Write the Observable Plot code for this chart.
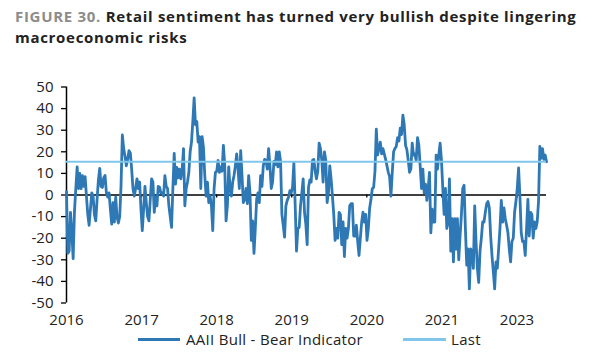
<!DOCTYPE html>
<html><head><meta charset="utf-8">
<script src="https://cdn.jsdelivr.net/npm/d3@7"></script>
<script src="https://cdn.jsdelivr.net/npm/@observablehq/plot@0.6"></script>
<style>
body{margin:0;background:#fff;}
#wrap{position:relative;width:600px;height:360px;overflow:hidden;font-family:"Open Sans",sans-serif;}
#chart{position:absolute;left:0;top:0}
#title{position:absolute;left:15px;top:6px;font-weight:700;font-size:15px;letter-spacing:0.7px;line-height:20.5px;color:#222;white-space:nowrap}
#title .fig{color:#8c8c8c}
#legend{position:absolute;top:331px;left:0;width:600px;height:16px;font-size:15px;letter-spacing:0.3px;color:#222}
.sw{position:absolute;top:7px;height:3px}
.lt{position:absolute;top:0;line-height:16px;white-space:nowrap}
</style></head><body>
<div id="wrap">
<div id="chart"></div>
<div id="title"></div>
<div id="legend"></div>
</div>
<script>
// ---- data ----
const figureLabel = "FIGURE 30.";
const titleLine1 = "Retail sentiment has turned very bullish despite lingering";
const titleLine2 = "macroeconomic risks";
const seriesNames = ["AAII Bull - Bear Indicator", "Last"];
const seriesColors = ["#2e78b5", "#80c6ea"];
const xTickLabels = ["2016", "2017", "2018", "2019", "2020", "2021", "2023"];
const yTicks = [-50, -40, -30, -20, -10, 0, 10, 20, 30, 40, 50];
const startDate = "2016-01-07";
const weeksSpan = 390;
const labelEveryWeeks = 61;

// AAII Bull - Bear spread (roughly weekly)
const spread2016_17 = [1.5, -27, -26, -8, -17, -29.5, -7.5, 3, 13, 3, 10, 3, 9, 4, 8.5, -0.5, -9, -14, -6.5, 1, -0.5, -9, -12, -2, 7, 12.3, 4, 3.5, 8, 9, 1, -1, 1, -6.5, -13.5, -3.5, -12.5, -1, -10, -13, -10, 4, 27.8, 21.5, 18, 13.5, 16.5, 20.5, 19.5, 12, 3, -0.5, 3, 7.5, 3, 6, -6.5, -16.5, -6.5, 4, -3.5, -10, -12, -2, 7.5, 6, -8, -1, -5, 4, 3.5, 1];
const spread2017_19 = [1, -0.5, 9, 4, 3, -5, -10, -15, 3, 19.3, 5, 12.8, 8, 12, 7.5, 12, 21.5, -5, 3, 6, 10.5, 20, 24.5, 34, 45, 32.5, 34, 24.5, 27, 3, 27, 22, 9, -0.5, 6, -3.5, -0.5, -5, -16.5, 3, 10.5, 11, 16, 10.5, 13, 11, 23, 13.5, -12, -5, 13, 3, -0.5, 6, 9, 13.5, 19, 12, 3, 20.5, 9, -3.5, -2, 3, -4, 9, 1, -21, -12, -27, -15.5, -2, 1];
const spread2019_20 = [-3.5, 9, 4, 13.5, 16.5, 16, 12, 21.5, 13.5, 3, 6, 15.5, 14, 20, 13, 20, 15.5, -9, -14, -19.5, -5, -2.5, -1, 2, 1, 3.5, 15, -5, -26, -15.5, -15, -5, 1, 7.5, -8, -13.5, -23, 3.5, 7, 6, 16, 16.5, 11, 7.5, 11, 24, 21.5, 16, 6, 20, 16, -3.5, 1, 13.5, 7.5, -0.5, -9, -21, -15.5, -20, -8, -9, -23, -12.5, -28.5, -15.5, -20, -15.5, -5, -4, -4, -19];
const spread2020_21 = [-19, -14, -21.5, -28, -20, -12.5, -8, -12.5, -9, -21, -15.5, -6, -2, 3, 3.5, 11, 30.5, 18.5, 21.5, 24.5, 19, 21.5, 19, 16.5, 13.5, 10.5, 8.5, -0.5, 10.5, 20, 21.5, 22.5, 26.5, 25, 31, 28, 37, 32.5, 23, 21, 16, 10.5, 12, 24, 18.5, 19, 16, 26.5, 23, 13.5, 3, 12, 1, 5, -2.5, 3, 10.5, -17.5, -6.5, -12.5, -12.5, 18.5, 12, 18.5, 24, 16, 3, -9, 3, -15.5, -12.5, 7.5];
const spread2022_23 = [-26, -11, -31, -11, -25, -11, -30, -19, -9, 3, 4.5, -15.5, -32.5, -25, -43.5, -25, -26, -34, -5, -21.5, -34, -40.5, -26, -20, -12.5, -12.5, -8, -4, -3, -6, -19, -28, -35.5, -43.5, -31, -34, -25, -15.5, -2.5, -12.5, -6, -11, -14, -17.5, -25, -31, -21.5, -20, -8, -3, 3, 12.5, -0.5, -17.5, -21.5, -21.5, -28, -15.5, -2, -19, -8, -9, -20, -12.5, -15.5, -12.5, -3, 22.5, 17, 21.5, 16.5, 18.5, 15.4];

// ---- build ----
const values = [...spread2016_17, ...spread2017_19, ...spread2019_20, ...spread2020_21, ...spread2022_23];
const start = new Date(startDate + "T00:00:00Z");
const end = d3.utcWeek.offset(start, weeksSpan);
const n = values.length;
const data = values.map((v, i) => ({date: new Date(+start + (end - start) * i / (n - 1)), value: v}));
const last = values[n - 1];
const tickDates = xTickLabels.map((_, k) => d3.utcWeek.offset(start, labelEveryWeeks * k));
const labelMap = new Map(tickDates.map((d, k) => [+d, xTickLabels[k]]));

const chart = Plot.plot({
  width: 600,
  height: 345,
  marginTop: 86.5,
  marginBottom: 42.5,
  marginLeft: 66,
  marginRight: 54,
  style: {fontFamily: '"Open Sans", sans-serif', fontSize: "15px", color: "#222", background: "transparent", overflow: "visible"},
  x: {type: "utc", domain: [start, end], label: null},
  y: {domain: [yTicks[0], yTicks[yTicks.length - 1]], label: null},
  marks: [
    Plot.axisX(tickDates, {tickSize: 0, tickPadding: 11.5, tickFormat: d => labelMap.get(+d), fontSize: 15, label: null}),
    Plot.axisY(yTicks, {tickSize: 5, tickPadding: 8, tickFormat: d => String(d), stroke: "black", strokeWidth: 1.3, fontSize: 15, label: null}),
    Plot.ruleX([start], {y1: yTicks[0], y2: yTicks[yTicks.length - 1], stroke: "black", strokeWidth: 1.5}),
    Plot.ruleY([0], {stroke: "black", strokeWidth: 1.5}),
    Plot.ruleX(tickDates, {y1: 0, y2: -1.4, stroke: "black", strokeWidth: 1.3}),
    Plot.line(data, {x: "date", y: "value", stroke: seriesColors[0], strokeWidth: 2.8, strokeLinejoin: "round"}),
    Plot.ruleY([last], {stroke: seriesColors[1], strokeWidth: 2})
  ]
});
document.getElementById("chart").appendChild(chart);

document.getElementById("title").innerHTML =
  `<span class="fig">${figureLabel}</span> ${titleLine1}<br>${titleLine2}`;

const legend = document.getElementById("legend");
const swX = [138, 403], txX = [186, 451], swW = [42, 43];
seriesNames.forEach((name, i) => {
  const s = document.createElement("div");
  s.className = "sw"; s.style.left = swX[i] + "px"; s.style.width = swW[i] + "px";
  s.style.background = seriesColors[i];
  legend.appendChild(s);
  const t = document.createElement("div");
  t.className = "lt"; t.style.left = txX[i] + "px"; t.textContent = name;
  legend.appendChild(t);
});
</script>
</body></html>
